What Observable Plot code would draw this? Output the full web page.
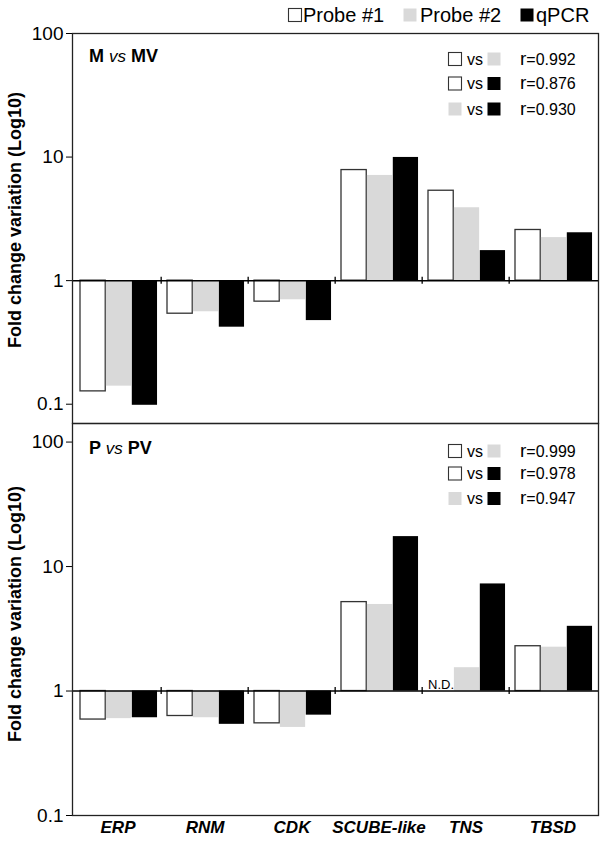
<!DOCTYPE html>
<html><head><meta charset="utf-8">
<script src="https://cdn.jsdelivr.net/npm/d3@7"></script>
<script src="https://cdn.jsdelivr.net/npm/@observablehq/plot@0.6"></script>
<style>
body{margin:0;background:#fff;font-family:"Liberation Sans",Arial,sans-serif;}
#wrap{position:relative;width:600px;height:841px;overflow:hidden;background:#fff}
#wrap > svg{position:absolute;left:0}
</style></head><body><div id="wrap"></div>
<script>
// ---- data ----
const genes = ["ERP", "RNM", "CDK", "SCUBE-like", "TNS", "TBSD"];
const series = ["Probe #1", "Probe #2", "qPCR"];
const mvProbe1 = [0.127, 0.54, 0.676, 7.85, 5.34, 2.57];
const mvProbe2 = [0.14, 0.56, 0.70, 7.1, 3.89, 2.23];
const mvQpcr   = [0.098, 0.42, 0.475, 9.93, 1.75, 2.44];
const pvProbe1 = [0.59, 0.63, 0.55, 5.18, null, 2.29];
const pvProbe2 = [0.60, 0.61, 0.51, 4.96, 1.54, 2.25];
const pvQpcr   = [0.61, 0.54, 0.64, 17.4, 7.25, 3.31];
const corrPairs = [["Probe #1", "Probe #2"], ["Probe #1", "qPCR"], ["Probe #2", "qPCR"]];
const mvCorr = ["0.992", "0.876", "0.930"];
const pvCorr = ["0.999", "0.978", "0.947"];
const yTicks = [0.1, 1, 10, 100];
const titles = [["M", "vs", "MV"], ["P", "vs", "PV"]];
const yLabel = "Fold change variation (Log10)";
const ndLabel = "N.D.";

// ---- styles ----
const fills = {"Probe #1": "#ffffff", "Probe #2": "#d9d9d9", "qPCR": "#000000"};
const FONT = "Liberation Sans, Arial, sans-serif";
const W = 600, ML = 72, MR = 2;
const bw = (W - ML - MR) / genes.length;
const barW = 25.9, pad0 = 6;

function rows(arrs) {
  const out = [];
  genes.forEach((g, i) => series.forEach((s, j) => out.push({gene: g, series: s, value: arrs[j][i]})));
  return out;
}

function panel(data, domain, height, mt, mb, showX) {
  const marks = [];
  series.forEach((s, j) => {
    const L = pad0 + j * barW, R = bw - (pad0 + (j + 1) * barW);
    marks.push(Plot.barY(data.filter(d => d.series === s && d.value != null), {
      x: "gene", y1: () => 1, y2: "value",
      fill: fills[s],
      stroke: s === "Probe #1" ? "#333" : "none",
      strokeWidth: 1.3,
      insetLeft: L, insetRight: R
    }));
  });
  // N.D. labels for missing values
  series.forEach((s, j) => {
    const miss = data.filter(d => d.series === s && d.value == null);
    marks.push(Plot.text(miss, {
      x: "gene", y: () => 1, text: () => ndLabel,
      dx: -bw / 2 + pad0 + (j + 0.5) * barW, dy: -2,
      lineAnchor: "bottom", fontSize: 13, fill: "#000"
    }));
  });
  const dec = Math.log10(domain[1] / domain[0]);
  const pxPerDec = (height - mt - mb) / dec;
  const tk = Math.pow(10, 3.5 / pxPerDec);
  marks.push(Plot.ruleY([1], {stroke: "#000", strokeWidth: 1.5}));
  marks.push(Plot.ruleX(genes.slice(1), {x: d => d, dx: -bw / 2, y1: 1 / tk, y2: tk, stroke: "#000", strokeWidth: 1.3}));
  marks.push(Plot.frame({stroke: "#222", strokeWidth: 1.3}));
  // y tick labels
  marks.push(Plot.text(yTicks, {
    y: d => d, text: d => String(d), frameAnchor: "left", dx: -9,
    textAnchor: "end", fontSize: 19, fill: "#000"
  }));
  if (showX) {
    marks.push(Plot.text(genes, {
      x: d => d, frameAnchor: "bottom", dy: 17, fontSize: 17,
      fontWeight: "bold", fontStyle: "italic", fill: "#000"
    }));
  }
  return Plot.plot({
    width: W, height, marginLeft: ML, marginRight: MR, marginTop: mt, marginBottom: mb,
    x: {domain: genes, padding: 0, axis: null},
    y: {type: "log", domain, ticks: yTicks, tickFormat: () => "", tickSize: 6, tickPadding: 3, label: null},
    style: {fontFamily: FONT, color: "#000", background: "transparent", overflow: "visible"},
    marks
  });
}

const wrap = document.getElementById("wrap");
const p1 = panel(rows([mvProbe1, mvProbe2, mvQpcr]), [0.0698, 100], 423, 33, 0, false);
p1.style.top = "0px";
wrap.appendChild(p1);
const p2 = panel(rows([pvProbe1, pvProbe2, pvQpcr]), [0.1, 141], 418, 0, 26, true);
p2.style.top = "423px";
wrap.appendChild(p2);

// ---- overlay: legends and labels ----
const svg = d3.select(wrap).append("svg")
  .attr("width", W).attr("height", 841)
  .style("top", "0px").style("pointer-events", "none")
  .style("font-family", FONT);

// top legend
const legX = [{sq: 288, tx: 303}, {sq: 403, tx: 420}, {sq: 520, tx: 536}];
series.forEach((s, j) => {
  svg.append("rect").attr("x", legX[j].sq + 0.5).attr("y", 8.5).attr("width", 13).attr("height", 13)
    .attr("fill", fills[s]).attr("stroke", j === 0 ? "#333" : "none").attr("stroke-width", 1.1);
  svg.append("text").attr("x", legX[j].tx).attr("y", 22).attr("font-size", 20).attr("fill", "#000").text(s);
});

// panel titles
const titleY = [62, 454];
titles.forEach((t, k) => {
  const tx = svg.append("text").attr("x", 89).attr("y", titleY[k]).attr("font-size", 18).attr("font-weight", "bold").attr("fill", "#000");
  tx.append("tspan").text(t[0] + " ");
  tx.append("tspan").attr("font-weight", "normal").attr("font-style", "italic").attr("font-size", 17).text(t[1]);
  tx.append("tspan").text(" " + t[2]);
});

// correlation legends
const corrRows = [[59, 83.5, 109], [451, 473.5, 498.5]];
[mvCorr, pvCorr].forEach((vals, k) => {
  vals.forEach((v, i) => {
    const cy = corrRows[k][i];
    const [a, b] = corrPairs[i];
    svg.append("rect").attr("x", 448.5).attr("y", cy - 6.5).attr("width", 13).attr("height", 13)
      .attr("fill", fills[a]).attr("stroke", a === "Probe #1" ? "#333" : "none").attr("stroke-width", 1.1);
    svg.append("text").attr("x", 467).attr("y", cy + 5.5).attr("font-size", 16).attr("fill", "#000").text("vs");
    svg.append("rect").attr("x", 487.5).attr("y", cy - 6.5).attr("width", 13).attr("height", 13)
      .attr("fill", fills[b]).attr("stroke", b === "Probe #1" ? "#333" : "none");
    const t = svg.append("text").attr("x", 520).attr("y", cy + 5.5).attr("font-size", 16).attr("fill", "#000");
    t.append("tspan").attr("font-size", 19).text("r");
    t.append("tspan").text("=" + v);
  });
});

// y-axis labels
[220, 614].forEach(cy => {
  svg.append("text").attr("transform", `translate(21,${cy}) rotate(-90)`)
    .attr("text-anchor", "middle").attr("font-size", 18).attr("font-weight", "bold").attr("fill", "#000")
    .text(yLabel);
});
</script></body></html>
